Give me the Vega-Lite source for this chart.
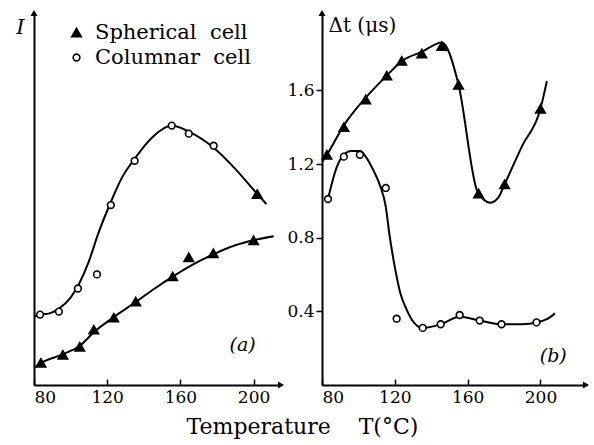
{
  "$schema": "https://vega.github.io/schema/vega-lite/v6.json",
  "padding": {"left": 15, "top": 9, "right": 5, "bottom": 5},
  "spacing": 1,
  "config": {
    "font": "DejaVu Serif",
    "view": {"stroke": null},
    "axis": {"domainColor": "black", "domainWidth": 2, "tickColor": "black", "tickWidth": 1.5, "labelColor": "black", "labelFont": "DejaVu Serif", "labelFontSize": 17, "grid": false, "titleFont": "DejaVu Serif", "titleColor": "black", "titleFontWeight": "normal"},
    "legend": {"labelFont": "DejaVu Serif", "labelFontSize": 21, "labelColor": "black"}
  },
  "title": {"text": "Temperature\u00a0\u00a0\u00a0\u00a0T(°C)", "orient": "bottom", "anchor": "middle", "fontSize": 22, "fontWeight": "normal", "font": "DejaVu Serif", "color": "black", "offset": 12},
  "datasets": {
    "ptsA": [
      {"T": 83.3, "v": 7.0, "cell": "Columnar\u00a0\u00a0cell"}, {"T": 93.6, "v": 7.3, "cell": "Columnar\u00a0\u00a0cell"}, {"T": 104, "v": 9.6, "cell": "Columnar\u00a0\u00a0cell"}, {"T": 114.4, "v": 11.0, "cell": "Columnar\u00a0\u00a0cell"}, {"T": 122, "v": 17.9, "cell": "Columnar\u00a0\u00a0cell"}, {"T": 135, "v": 22.3, "cell": "Columnar\u00a0\u00a0cell"}, {"T": 155.3, "v": 25.8, "cell": "Columnar\u00a0\u00a0cell"}, {"T": 164.6, "v": 25.0, "cell": "Columnar\u00a0\u00a0cell"}, {"T": 178.2, "v": 23.8, "cell": "Columnar\u00a0\u00a0cell"},
      {"T": 83.8, "v": 2.2, "cell": "Spherical\u00a0\u00a0cell"}, {"T": 95.8, "v": 3.0, "cell": "Spherical\u00a0\u00a0cell"}, {"T": 105, "v": 3.8, "cell": "Spherical\u00a0\u00a0cell"}, {"T": 112.7, "v": 5.5, "cell": "Spherical\u00a0\u00a0cell"}, {"T": 123.6, "v": 6.7, "cell": "Spherical\u00a0\u00a0cell"}, {"T": 135.6, "v": 8.3, "cell": "Spherical\u00a0\u00a0cell"}, {"T": 155.8, "v": 10.8, "cell": "Spherical\u00a0\u00a0cell"}, {"T": 164.6, "v": 12.7, "cell": "Spherical\u00a0\u00a0cell"}, {"T": 178, "v": 13.1, "cell": "Spherical\u00a0\u00a0cell"}, {"T": 200, "v": 14.4, "cell": "Spherical\u00a0\u00a0cell"}, {"T": 202, "v": 19.0, "cell": "Spherical\u00a0\u00a0cell"}
    ],
    "curA": [
      {"T": 80, "v": 6.8, "c": "col"}, {"T": 83.3, "v": 7.0, "c": "col"}, {"T": 88, "v": 7.1, "c": "col"}, {"T": 93.6, "v": 7.6, "c": "col"}, {"T": 100, "v": 8.7, "c": "col"}, {"T": 105, "v": 10.2, "c": "col"}, {"T": 110, "v": 12.3, "c": "col"}, {"T": 115, "v": 15.0, "c": "col"}, {"T": 122, "v": 18.2, "c": "col"}, {"T": 128, "v": 20.6, "c": "col"}, {"T": 135, "v": 22.5, "c": "col"}, {"T": 145, "v": 24.7, "c": "col"}, {"T": 155.3, "v": 25.8, "c": "col"}, {"T": 164.6, "v": 25.2, "c": "col"}, {"T": 178.2, "v": 23.6, "c": "col"}, {"T": 190, "v": 21.5, "c": "col"}, {"T": 202, "v": 19.0, "c": "col"}, {"T": 207, "v": 18.0, "c": "col"},
      {"T": 80, "v": 1.7, "c": "sph"}, {"T": 84, "v": 2.2, "c": "sph"}, {"T": 95, "v": 3.0, "c": "sph"}, {"T": 105, "v": 3.9, "c": "sph"}, {"T": 113, "v": 5.3, "c": "sph"}, {"T": 124, "v": 6.8, "c": "sph"}, {"T": 136, "v": 8.3, "c": "sph"}, {"T": 146, "v": 9.6, "c": "sph"}, {"T": 156, "v": 10.8, "c": "sph"}, {"T": 166, "v": 11.9, "c": "sph"}, {"T": 178, "v": 13.0, "c": "sph"}, {"T": 190, "v": 13.9, "c": "sph"}, {"T": 200, "v": 14.4, "c": "sph"}, {"T": 211, "v": 14.8, "c": "sph"}
    ],
    "ptsB": [
      {"T": 82.7, "v": 1.25, "cell": "Spherical\u00a0\u00a0cell"}, {"T": 92, "v": 1.40, "cell": "Spherical\u00a0\u00a0cell"}, {"T": 104, "v": 1.55, "cell": "Spherical\u00a0\u00a0cell"}, {"T": 115.6, "v": 1.68, "cell": "Spherical\u00a0\u00a0cell"}, {"T": 123.8, "v": 1.76, "cell": "Spherical\u00a0\u00a0cell"}, {"T": 134.8, "v": 1.80, "cell": "Spherical\u00a0\u00a0cell"}, {"T": 145.8, "v": 1.84, "cell": "Spherical\u00a0\u00a0cell"}, {"T": 155, "v": 1.63, "cell": "Spherical\u00a0\u00a0cell"}, {"T": 166, "v": 1.04, "cell": "Spherical\u00a0\u00a0cell"}, {"T": 180.3, "v": 1.09, "cell": "Spherical\u00a0\u00a0cell"}, {"T": 200, "v": 1.50, "cell": "Spherical\u00a0\u00a0cell"},
      {"T": 83.3, "v": 1.01, "cell": "Columnar\u00a0\u00a0cell"}, {"T": 92, "v": 1.24, "cell": "Columnar\u00a0\u00a0cell"}, {"T": 100.8, "v": 1.25, "cell": "Columnar\u00a0\u00a0cell"}, {"T": 115, "v": 1.07, "cell": "Columnar\u00a0\u00a0cell"}, {"T": 121, "v": 0.36, "cell": "Columnar\u00a0\u00a0cell"}, {"T": 135.3, "v": 0.31, "cell": "Columnar\u00a0\u00a0cell"}, {"T": 145.2, "v": 0.33, "cell": "Columnar\u00a0\u00a0cell"}, {"T": 155.6, "v": 0.38, "cell": "Columnar\u00a0\u00a0cell"}, {"T": 166.6, "v": 0.35, "cell": "Columnar\u00a0\u00a0cell"}, {"T": 178.6, "v": 0.33, "cell": "Columnar\u00a0\u00a0cell"}, {"T": 197.8, "v": 0.34, "cell": "Columnar\u00a0\u00a0cell"}
    ],
    "curB": [
      {"T": 80, "v": 1.21, "c": "sph"}, {"T": 82.7, "v": 1.25, "c": "sph"}, {"T": 92, "v": 1.41, "c": "sph"}, {"T": 104, "v": 1.56, "c": "sph"}, {"T": 115.6, "v": 1.68, "c": "sph"}, {"T": 124, "v": 1.76, "c": "sph"}, {"T": 135, "v": 1.81, "c": "sph"}, {"T": 145.8, "v": 1.86, "c": "sph"}, {"T": 155, "v": 1.63, "c": "sph"}, {"T": 165, "v": 1.06, "c": "sph"}, {"T": 168.5, "v": 1.01, "c": "sph"}, {"T": 172.5, "v": 0.99, "c": "sph"}, {"T": 177, "v": 1.02, "c": "sph"}, {"T": 180.3, "v": 1.09, "c": "sph"}, {"T": 190, "v": 1.30, "c": "sph"}, {"T": 200, "v": 1.50, "c": "sph"}, {"T": 203.5, "v": 1.65, "c": "sph"},
      {"T": 83.3, "v": 1.01, "c": "col"}, {"T": 88, "v": 1.18, "c": "col"}, {"T": 92, "v": 1.25, "c": "col"}, {"T": 96, "v": 1.27, "c": "col"}, {"T": 101, "v": 1.27, "c": "col"}, {"T": 104, "v": 1.24, "c": "col"}, {"T": 108, "v": 1.17, "c": "col"}, {"T": 112, "v": 1.08, "c": "col"}, {"T": 115, "v": 0.97, "c": "col"}, {"T": 117, "v": 0.82, "c": "col"}, {"T": 120, "v": 0.64, "c": "col"}, {"T": 123, "v": 0.50, "c": "col"}, {"T": 126, "v": 0.42, "c": "col"}, {"T": 129, "v": 0.36, "c": "col"}, {"T": 135.3, "v": 0.31, "c": "col"}, {"T": 145.2, "v": 0.33, "c": "col"}, {"T": 155.6, "v": 0.37, "c": "col"}, {"T": 166.6, "v": 0.35, "c": "col"}, {"T": 178.6, "v": 0.33, "c": "col"}, {"T": 190, "v": 0.33, "c": "col"}, {"T": 198, "v": 0.34, "c": "col"}, {"T": 204, "v": 0.36, "c": "col"}, {"T": 208, "v": 0.39, "c": "col"}
    ]
  },
  "resolve": {"scale": {"shape": "independent", "fill": "independent", "size": "independent"}, "legend": {"shape": "independent", "fill": "independent", "size": "independent"}},
  "hconcat": [
    {
      "width": 247,
      "height": 372,
      "layer": [
        {
          "data": {"name": "curA"},
          "mark": {"type": "line", "interpolate": "monotone", "color": "black", "strokeWidth": 2},
          "encoding": {
            "x": {"field": "T", "type": "quantitative", "scale": {"domain": [80, 215], "nice": false, "zero": false}, "axis": {"values": [80, 120, 160, 200], "tickSize": -6, "labelPadding": 10, "title": null}},
            "y": {"field": "v", "type": "quantitative", "scale": {"domain": [0, 37], "nice": false}, "axis": {"labels": false, "ticks": false, "title": "I", "titleFontStyle": "italic", "titleFontSize": 21, "titleAngle": 0, "titleX": -14, "titleY": 14, "titleAlign": "center", "titleBaseline": "middle"}},
            "detail": {"field": "c"}
          }
        },
        {
          "data": {"name": "ptsA"},
          "mark": {"type": "point", "filled": true, "stroke": "black", "strokeWidth": 1.6, "opacity": 1},
          "encoding": {
            "x": {"field": "T", "type": "quantitative"},
            "y": {"field": "v", "type": "quantitative"},
            "shape": {"field": "cell", "type": "nominal", "scale": {"domain": ["Spherical\u00a0\u00a0cell", "Columnar\u00a0\u00a0cell"], "range": ["triangle-up", "circle"]}, "legend": {"title": null, "orient": "none", "legendX": 32, "legendY": 9, "labelFontSize": 21, "labelFont": "DejaVu Serif", "labelColor": "black", "rowPadding": 3, "labelOffset": 8, "symbolStrokeWidth": 1.6}},
            "fill": {"field": "cell", "type": "nominal", "scale": {"domain": ["Spherical\u00a0\u00a0cell", "Columnar\u00a0\u00a0cell"], "range": ["black", "white"]}, "legend": {"title": null, "orient": "none", "legendX": 32, "legendY": 9, "labelFontSize": 21, "labelFont": "DejaVu Serif", "labelColor": "black", "rowPadding": 3, "labelOffset": 8, "symbolStrokeWidth": 1.6}},
            "size": {"field": "cell", "type": "nominal", "scale": {"domain": ["Spherical\u00a0\u00a0cell", "Columnar\u00a0\u00a0cell"], "range": [90, 45]}, "legend": {"title": null, "orient": "none", "legendX": 32, "legendY": 9, "labelFontSize": 21, "labelFont": "DejaVu Serif", "labelColor": "black", "rowPadding": 3, "labelOffset": 8, "symbolStrokeWidth": 1.6}}
          }
        },
        {
          "data": {"values": [{}]},
          "mark": {"type": "point", "shape": "triangle-right", "filled": true, "color": "black", "size": 50, "opacity": 1},
          "encoding": {"x": {"datum": 215}, "y": {"datum": 0}}
        },
        {
          "data": {"values": [{}]},
          "mark": {"type": "point", "shape": "triangle-up", "filled": true, "color": "black", "size": 50, "opacity": 1},
          "encoding": {"x": {"datum": 80}, "y": {"datum": 37}}
        },
        {
          "data": {"values": [{}]},
          "mark": {"type": "text", "text": "(a)", "fontSize": 19, "fontStyle": "italic", "font": "DejaVu Serif", "color": "black"},
          "encoding": {"x": {"datum": 194}, "y": {"datum": 4}}
        }
      ]
    },
    {
      "width": 264,
      "height": 372,
      "layer": [
        {
          "data": {"name": "curB"},
          "mark": {"type": "line", "interpolate": "monotone", "color": "black", "strokeWidth": 2},
          "encoding": {
            "x": {"field": "T", "type": "quantitative", "scale": {"domain": [80, 225], "nice": false, "zero": false}, "axis": {"values": [80, 120, 160, 200], "tickSize": -6, "labelPadding": 10, "title": null}},
            "y": {"field": "v", "type": "quantitative", "scale": {"domain": [0, 2.02], "nice": false}, "axis": {"values": [0.4, 0.8, 1.2, 1.6], "format": ".1f", "tickSize": 6, "labelPadding": 2, "title": "Δt (μs)", "titleFontSize": 20, "titleAngle": 0, "titleX": 6, "titleY": 12, "titleAlign": "left", "titleBaseline": "middle"}},
            "detail": {"field": "c"}
          }
        },
        {
          "data": {"name": "ptsB"},
          "mark": {"type": "point", "filled": true, "stroke": "black", "strokeWidth": 1.6, "opacity": 1},
          "encoding": {
            "x": {"field": "T", "type": "quantitative"},
            "y": {"field": "v", "type": "quantitative"},
            "shape": {"field": "cell", "type": "nominal", "scale": {"domain": ["Spherical\u00a0\u00a0cell", "Columnar\u00a0\u00a0cell"], "range": ["triangle-up", "circle"]}, "legend": null},
            "fill": {"field": "cell", "type": "nominal", "scale": {"domain": ["Spherical\u00a0\u00a0cell", "Columnar\u00a0\u00a0cell"], "range": ["black", "white"]}, "legend": null},
            "size": {"field": "cell", "type": "nominal", "scale": {"domain": ["Spherical\u00a0\u00a0cell", "Columnar\u00a0\u00a0cell"], "range": [90, 45]}, "legend": null}
          }
        },
        {
          "data": {"values": [{}]},
          "mark": {"type": "point", "shape": "triangle-right", "filled": true, "color": "black", "size": 50, "opacity": 1},
          "encoding": {"x": {"datum": 225}, "y": {"datum": 0}}
        },
        {
          "data": {"values": [{}]},
          "mark": {"type": "point", "shape": "triangle-up", "filled": true, "color": "black", "size": 50, "opacity": 1},
          "encoding": {"x": {"datum": 80}, "y": {"datum": 2.02}}
        },
        {
          "data": {"values": [{}]},
          "mark": {"type": "text", "text": "(b)", "fontSize": 19, "fontStyle": "italic", "font": "DejaVu Serif", "color": "black"},
          "encoding": {"x": {"datum": 207}, "y": {"datum": 0.16}}
        }
      ]
    }
  ]
}
